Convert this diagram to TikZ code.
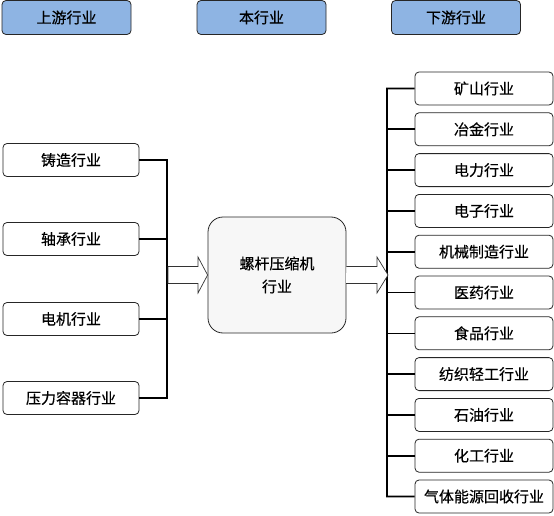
\documentclass[tikz,border=0pt]{standalone}
\usepackage{fontspec}
\setmainfont{Noto Sans CJK SC}[FakeBold=0.4]
\begin{document}
\begin{tikzpicture}[x=1pt,y=-1pt,
  hdr/.style={draw=black!85, line width=0.8pt, fill=hdrblue, rounded corners=4pt, minimum width=129pt, minimum height=34pt, inner sep=0pt, font=\fontsize{15}{17}\selectfont},
  item/.style={draw=black!85, line width=0.8pt, fill=white, rounded corners=4pt, minimum width=136pt, minimum height=33pt, inner sep=0pt, font=\fontsize{15}{17}\selectfont},
  ritem/.style={item, minimum width=138pt},
  bus/.style={line width=1.6pt, black},
  arr/.style={draw=black!80, line width=0.7pt, fill=white}]
\definecolor{hdrblue}{HTML}{8EB4E3}
\useasboundingbox (0,0) rectangle (554,516);
% headers
\node[hdr] (h1) at (66.5,17.5) {上游行业};
\node[hdr] (h2) at (261.5,17.5) {本行业};
\node[hdr] (h3) at (456,17.5) {下游行业};
% left items
\node[item] (l1) at (71,160) {铸造行业};
\node[item] (l2) at (71,239) {轴承行业};
\node[item] (l3) at (71,319) {电机行业};
\node[item] (l4) at (71,398) {压力容器行业};
% center
\node[draw=black!85, line width=0.8pt, fill=black!3, rounded corners=15pt, minimum width=138pt, minimum height=116pt, inner sep=0pt, align=center, font=\fontsize{15}{23}\selectfont] (c) at (277,275) {螺杆压缩机\\行业};
% right items
\foreach \i/\t in {1/矿山行业,2/冶金行业,3/电力行业,4/电子行业,5/机械制造行业,6/医药行业,7/食品行业,8/纺织轻工行业,9/石油行业,10/化工行业,11/气体能源回收行业}{
  \node[ritem] (r\i) at (484, {88.5+(\i-1)*40.8}) {\t};
}
% left bus
\coordinate (lbt) at (167,160);
\coordinate (lbb) at (167,398);
\draw[bus] (l1.east) -- (lbt) -- (lbb) -- (l4.east);
\draw[bus] (l2.east) -- (167,239);
\draw[bus] (l3.east) -- (167,319);
% right bus
\coordinate (rbt) at (387,88.5);
\coordinate (rbb) at (387,496.5);
\draw[bus] (r1.west) -- (rbt) -- (rbb) -- (r11.west);
\foreach \i in {2,...,10}{
  \draw[bus] (r\i.west) -- (387,{88.5+(\i-1)*40.8});
}
% hollow arrows
\coordinate (la) at (168,275);
\draw[arr] (la) ++(0,-8.5) -- (198,266.5) -- (198,257) -- (c.west) -- (198,293) -- (198,283.5) -- (168,283.5) -- cycle;
\coordinate (ra) at (346,275);
\draw[arr] (c.east) ++(0,-8.5) -- (377,266.5) -- (377,257) -- (388,275) -- (377,293) -- (377,283.5) -- (346,283.5);
\end{tikzpicture}
\end{document}
